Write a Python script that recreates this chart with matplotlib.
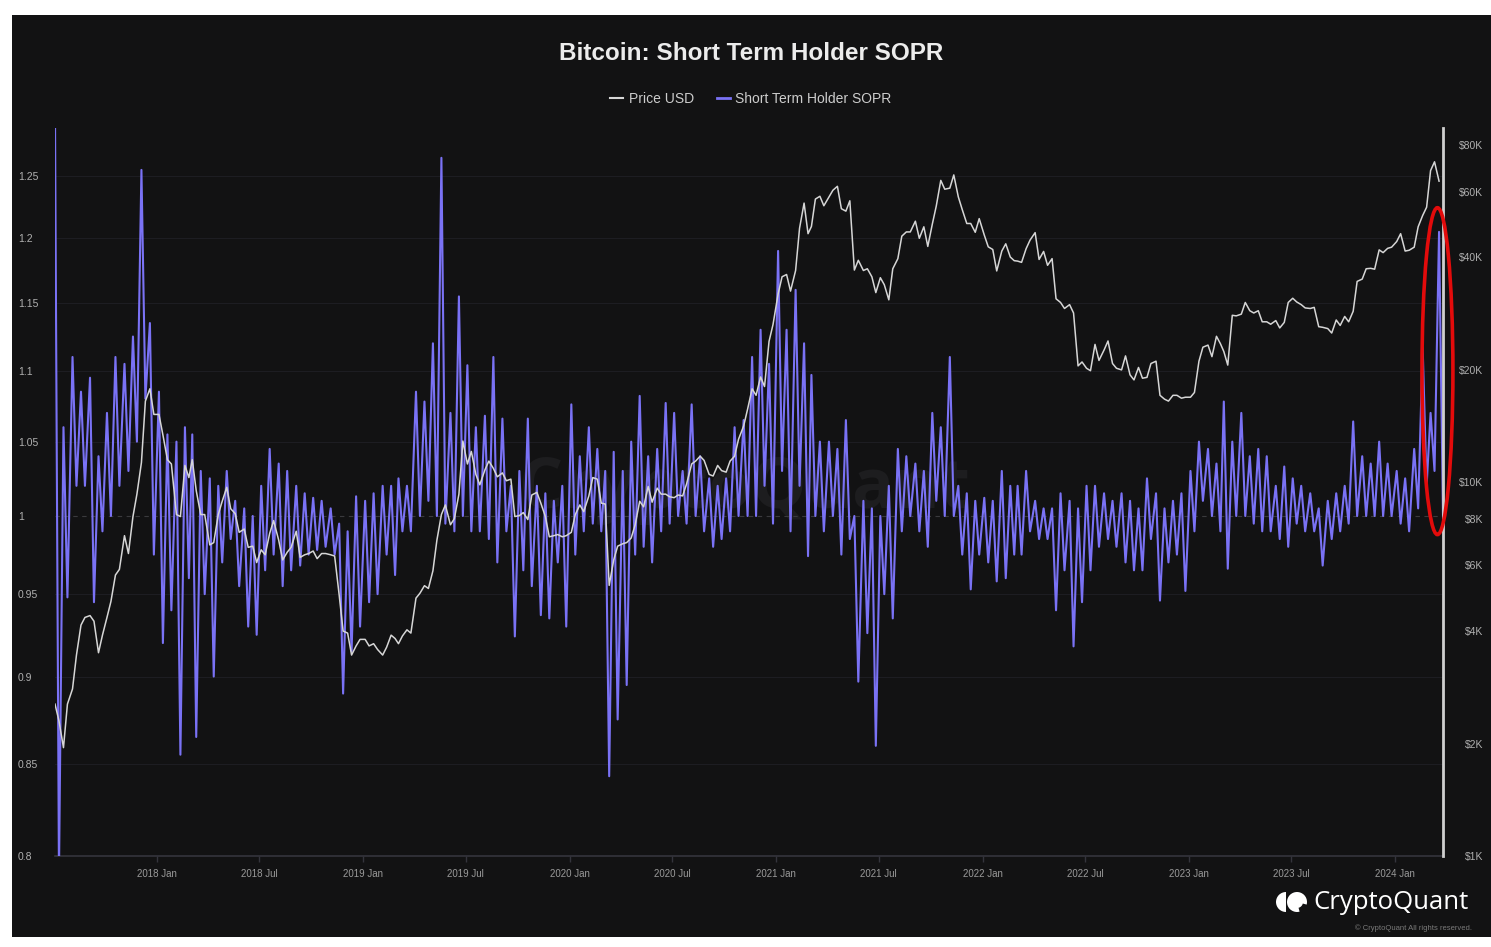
import numpy as np
import pandas as pd
import matplotlib
matplotlib.use("Agg")
import matplotlib.pyplot as plt
import matplotlib.dates as mdates
from matplotlib.patches import Ellipse, Rectangle, Wedge, Circle
from matplotlib.lines import Line2D
from matplotlib.ticker import FixedLocator, NullLocator, FixedFormatter

plt.rcParams['font.family'] = ['Liberation Sans', 'DejaVu Sans']

# ---------------- data ----------------
# Sample days in every month (two half-month bins: high read on day 4/19, low on day 11/26)
sample_days = [4, 11, 19, 26]
first_month = '2017-07'
last_month = '2024-03'

# Short Term Holder SOPR: half-month envelope (high, low)
sopr_high = [
    # 2017 Jul..Dec
    1.300, 1.060, 1.110, 1.085, 1.095, 1.040, 1.070, 1.110, 1.105, 1.125, 1.255, 1.135,
    # 2018
    1.085, 1.055, 1.050, 1.060, 1.055, 1.030, 1.025, 1.020, 1.030, 1.010, 1.005, 1.000,
    1.020, 1.045, 1.035, 1.030, 1.020, 1.015, 1.012, 1.010, 1.005, 0.995, 0.990, 1.013,
    # 2019
    1.010, 1.015, 1.020, 1.020, 1.025, 1.020, 1.085, 1.078, 1.120, 1.265, 1.070, 1.155,
    1.104, 1.060, 1.068, 1.110, 1.066, 1.020, 1.030, 1.066, 1.020, 1.015, 1.010, 1.020,
    # 2020
    1.076, 1.040, 1.060, 1.045, 1.030, 1.043, 1.030, 1.050, 1.082, 1.040, 1.045, 1.077,
    1.070, 1.030, 1.076, 1.040, 1.025, 1.020, 1.025, 1.060, 1.065, 1.110, 1.130, 1.105,
    # 2021
    1.190, 1.130, 1.160, 1.120, 1.097, 1.050, 1.050, 1.045, 1.065, 1.000, 1.010, 1.005,
    1.000, 1.020, 1.045, 1.040, 1.035, 1.030, 1.070, 1.060, 1.110, 1.020, 1.015, 1.010,
    # 2022
    1.012, 1.010, 1.030, 1.020, 1.020, 1.030, 1.010, 1.005, 1.005, 1.015, 1.010, 1.005,
    1.020, 1.020, 1.015, 1.010, 1.015, 1.010, 1.005, 1.025, 1.015, 1.005, 1.010, 1.015,
    # 2023
    1.030, 1.050, 1.045, 1.035, 1.078, 1.050, 1.070, 1.040, 1.045, 1.040, 1.020, 1.033,
    1.025, 1.020, 1.015, 1.005, 1.010, 1.015, 1.020, 1.064, 1.040, 1.035, 1.050, 1.035,
    # 2024 Jan..Mar
    1.030, 1.025, 1.045, 1.117, 1.070, 1.205,
]
sopr_low = [
    # 2017 Jul..Dec
    0.790, 0.948, 1.020, 1.020, 0.945, 0.990, 1.000, 1.020, 1.030, 1.050, 1.080, 0.975,
    # 2018
    0.920, 0.940, 0.855, 0.960, 0.865, 0.950, 0.900, 0.970, 0.985, 0.955, 0.930, 0.925,
    0.965, 0.975, 0.955, 0.965, 0.968, 0.975, 0.978, 0.980, 0.975, 0.890, 0.915, 0.930,
    # 2019
    0.945, 0.950, 0.975, 0.962, 0.990, 0.990, 1.000, 1.010, 1.000, 0.995, 0.990, 1.000,
    0.990, 0.990, 0.985, 0.970, 0.990, 0.924, 0.965, 0.955, 0.937, 0.935, 0.970, 0.930,
    # 2020
    0.975, 0.990, 0.995, 0.990, 0.843, 0.875, 0.895, 0.975, 0.980, 0.970, 0.990, 0.995,
    1.000, 0.995, 1.000, 0.990, 0.980, 0.985, 0.990, 1.000, 1.000, 1.000, 1.020, 0.995,
    # 2021
    1.030, 0.990, 1.020, 0.974, 1.000, 0.990, 1.000, 0.975, 0.985, 0.897, 0.926, 0.860,
    0.950, 0.935, 0.990, 1.000, 0.990, 0.980, 1.010, 1.000, 1.000, 0.975, 0.953, 0.975,
    # 2022
    0.970, 0.958, 0.960, 0.975, 0.975, 0.990, 0.985, 0.985, 0.940, 0.965, 0.918, 0.945,
    0.965, 0.980, 0.985, 0.980, 0.970, 0.965, 0.965, 0.985, 0.946, 0.970, 0.975, 0.952,
    # 2023
    0.990, 1.010, 1.000, 0.990, 0.966, 1.000, 1.000, 0.995, 0.990, 0.990, 0.985, 0.980,
    0.995, 0.990, 0.990, 0.968, 0.985, 0.990, 0.995, 1.000, 1.000, 1.000, 1.000, 1.000,
    # 2024 Jan..Mar
    0.995, 0.990, 1.005, 1.020, 1.030, 1.000,
]

# Price USD on the same sample days (4, 11, 19, 26 of each month)
price_usd = [
    # 2017 Jul..Dec
    2550, 2300, 1950, 2550,  2800, 3450, 4150, 4350,  4400, 4250, 3500, 3900,
    4350, 4800, 5650, 5850,  7200, 6450, 8100, 9300,  11300, 16500, 17800, 15200,
    # 2018
    15200, 13400, 11500, 11200,  8200, 8100, 11100, 10300,  11500, 9500, 8200, 8200,
    6800, 6900, 8200, 8900,  9700, 8500, 8250, 7350,  7500, 6700, 6750, 6100,
    6600, 6400, 7300, 7900,  7000, 6200, 6500, 6700,  7400, 6300, 6400, 6450,
    6550, 6250, 6450, 6450,  6400, 6350, 5000, 4000,  3950, 3450, 3650, 3800,
    # 2019
    3800, 3650, 3700, 3570,  3450, 3620, 3900, 3820,  3700, 3880, 4030, 3950,
    4900, 5050, 5290, 5200,  5800, 7000, 8200, 8700,  7700, 8000, 9300, 12900,
    11200, 12100, 10500, 9850,  10800, 11400, 10900, 10350,  10600, 10100, 10200, 8100,
    8150, 8300, 7950, 9250,  9400, 8800, 8100, 7150,  7200, 7250, 7150, 7200,
    # 2020
    7350, 8200, 8700, 8350,  9200, 10300, 10200, 8800,  8750, 5300, 6200, 6750,
    6850, 6900, 7100, 7700,  8900, 8600, 9750, 8850,  9650, 9300, 9300, 9150,
    9100, 9250, 9200, 9900,  11200, 11400, 11750, 11450,  10500, 10400, 11100, 10750,
    10650, 11400, 11750, 13050,  14150, 15700, 17800, 17100,  19150, 18050, 23850, 26450,
    # 2021
    31900, 35500, 36000, 32500,  36900, 47900, 55900, 46300,  48400, 57300, 58300, 55000,
    58000, 60500, 62000, 54000,  53200, 56700, 37000, 39300,  36900, 37300, 35500, 32200,
    35300, 33800, 30800, 37300,  39700, 45600, 46800, 46800,  50000, 45000, 48300, 42800,
    49100, 54900, 64300, 60900,  61300, 66500, 58100, 53700,  49300, 49300, 46700, 50800,
    # 2022
    45900, 42700, 42000, 36800,  41600, 43500, 40100, 39200,  39100, 38800, 42200, 44500,
    46600, 39500, 41500, 38100,  39700, 31000, 30300, 29200,  29900, 28400, 20500, 21000,
    20200, 19900, 23400, 21200,  22600, 23900, 20800, 20200,  20000, 21800, 19400, 18800,
    20300, 19000, 19100, 20800,  21100, 17100, 16700, 16500,  17100, 17100, 16800, 16900,
    # 2023
    16900, 17400, 21100, 23000,  23300, 21700, 24600, 23500,  22400, 20600, 28000, 27900,
    28200, 30300, 28800, 28400,  28800, 26900, 26900, 26500,  27100, 25900, 26800, 30300,
    31100, 30400, 29900, 29300,  29200, 29400, 26100, 26000,  25800, 25100, 27200, 26300,
    27800, 26900, 28700, 34500,  35000, 37300, 37400, 37200,  41900, 41200, 42300, 42600,
    # 2024 Jan..Mar
    44100, 46300, 41600, 41800,  42600, 48300, 51800, 54500,  68300, 72100, 64000,
]

left_ticks = [0.8, 0.85, 0.9, 0.95, 1.0, 1.05, 1.1, 1.15, 1.2, 1.25]
left_labels = ['0.8', '0.85', '0.9', '0.95', '1', '1.05', '1.1', '1.15', '1.2', '1.25']
right_ticks = [1000, 2000, 4000, 6000, 8000, 10000, 20000, 40000, 60000, 80000]
right_labels = ['$1K', '$2K', '$4K', '$6K', '$8K', '$10K', '$20K', '$40K', '$60K', '$80K']
x_tick_dates = pd.date_range('2018-01-01', '2024-01-01', freq='6MS')
x_start, x_end = '2017-07-04', '2024-03-26'

# ---------------- build series ----------------
months = pd.period_range(first_month, last_month, freq='M')
sample_dates = [pd.Timestamp(year=m.year, month=m.month, day=d) for m in months for d in sample_days]
sopr_series = []
for h, l in zip(sopr_high, sopr_low):
    sopr_series += [h, l]
sopr_dates = sample_dates[:len(sopr_series)]
price_dates = sample_dates[:len(price_usd)]

# ---------------- figure ----------------
W, H = 1491, 947
BG = '#121213'
PURPLE = '#7a72f5'
PRICE_C = '#d6d6d6'

fig = plt.figure(figsize=(W / 100, H / 100), dpi=100, facecolor='white')
fig.patches.append(Rectangle((12 / W, 10 / H), 1 - 12 / W, (947 - 15 - 10) / H,
                             transform=fig.transFigure, facecolor=BG,
                             edgecolor='none', zorder=-10))

ax = fig.add_axes([55 / W, (H - 856) / H, 1388 / W, 728 / H])
ax.set_facecolor(BG)
ax2 = ax.twinx()

# watermark
ax.text(0.497, 0.503, 'CryptoQuant', transform=ax.transAxes, ha='center', va='center',
        fontsize=50, color='#1d1d1f', family='Open Sans', fontweight='bold', zorder=0)

# grid
for t in left_ticks:
    if t == 1.0:
        ax.axhline(t, color='#3a3a3d', lw=0.8, ls=(0, (4, 4)), zorder=1)
    else:
        ax.axhline(t, color='#1d1d22', lw=0.8, zorder=1)

ax.plot(sopr_dates, sopr_series, color=PURPLE, lw=1.5, zorder=3)
ax2.plot(price_dates, price_usd, color=PRICE_C, lw=1.1, zorder=4)

ax.set_yscale('log')
ax.set_ylim(0.8, 1.29)
ax2.set_yscale('log')
ax2.set_ylim(1000, 88800)
ax.set_xlim(pd.Timestamp(x_start), pd.Timestamp(x_end))

ax.yaxis.set_major_locator(FixedLocator(left_ticks))
ax.yaxis.set_major_formatter(FixedFormatter(left_labels))
ax.yaxis.set_minor_locator(NullLocator())
ax2.yaxis.set_major_locator(FixedLocator(right_ticks))
ax2.yaxis.set_major_formatter(FixedFormatter(right_labels))
ax2.yaxis.set_minor_locator(NullLocator())

ax.tick_params(axis='y', length=0, pad=26.6, labelsize=7.5, labelcolor='#b0b0b0')
for lbl in ax.get_yticklabels():
    lbl.set_ha('left')
ax2.tick_params(axis='y', length=0, pad=28.8, labelsize=7.5, labelcolor='#b0b0b0')
for lbl in ax2.get_yticklabels():
    lbl.set_ha('right')

ax.set_xticks(x_tick_dates)
ax.xaxis.set_major_formatter(mdates.DateFormatter('%Y %b'))
ax.xaxis.set_minor_locator(NullLocator())
ax.tick_params(axis='x', length=4, width=1, color='#34343c', pad=5,
               labelsize=7, labelcolor='#9a9a9a')

for a in (ax, ax2):
    for s in ('left', 'right', 'top', 'bottom'):
        a.spines[s].set_visible(False)
ax.spines['bottom'].set_visible(True)
ax.spines['bottom'].set_color('#34343c')
ax.spines['bottom'].set_linewidth(1.2)

# end-of-data vertical line and highlight ellipse
ax2.axvline(pd.Timestamp(x_end), color='#cfcfcf', lw=2, zorder=6, clip_on=False)
ax2.add_patch(Ellipse((0.996, 0.666), width=0.0223, height=0.449,
                      transform=ax2.transAxes, fill=False, edgecolor='#e30b0b',
                      lw=2.6, clip_on=False, zorder=10))

# title & legend
fig.text(751 / W, 1 - 54 / H, 'Bitcoin: Short Term Holder SOPR', ha='center', va='center',
         fontsize=17.5, fontweight='bold', color='#ececec')
handles = [Line2D([], [], color=PRICE_C, lw=1.5), Line2D([], [], color=PURPLE, lw=2)]
fig.legend(handles, ['Price USD', 'Short Term Holder SOPR'], loc='center',
           bbox_to_anchor=(751 / W, 1 - 99 / H), ncol=2, frameon=False, fontsize=10,
           labelcolor='#cccccc', handlelength=0.9, handletextpad=0.4, columnspacing=1.7)

# logo
def px(x, y):
    return (x / 100, (H - y) / 100)

fig.patches.append(Wedge(px(1286, 902), 0.10, 90, 270, transform=fig.dpi_scale_trans,
                         facecolor='white', edgecolor='none'))
fig.patches.append(Circle(px(1297, 902), 0.10, transform=fig.dpi_scale_trans,
                          facecolor='white', edgecolor='none'))
fig.patches.append(Wedge(px(1297, 902), 0.11, -75, -15, width=0.05,
                         transform=fig.dpi_scale_trans, facecolor=BG, edgecolor='none'))
fig.text(1313 / W, 1 - 902 / H, 'CryptoQuant', ha='left', va='center', fontsize=18.5,
         color='white', family='Open Sans')
fig.text(1472 / W, 1 - 928 / H, '\u00a9 CryptoQuant All rights reserved.', ha='right',
         va='center', fontsize=5.5, color='#7a7a7a')

fig.savefig('out.png', dpi=100, facecolor='white')
